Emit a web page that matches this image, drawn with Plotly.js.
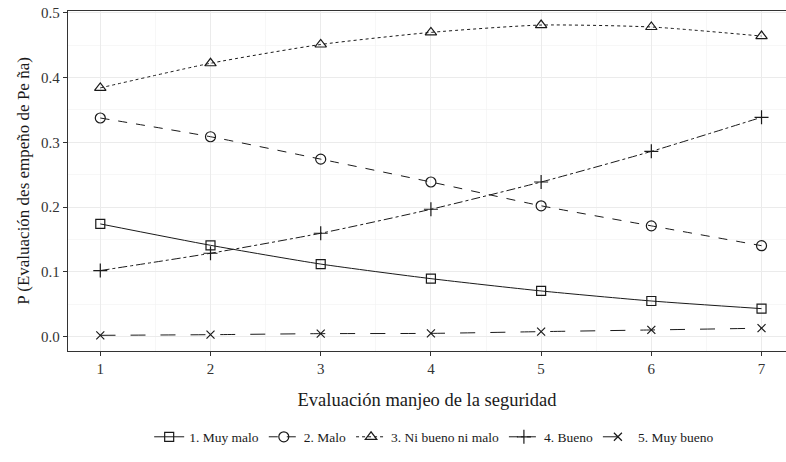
<!DOCTYPE html>
<html>
<head>
<meta charset="utf-8">
<script src="https://cdn.plot.ly/plotly-3.0.1.min.js"></script>
<style>html,body{margin:0;padding:0;background:#fff;}#chart{width:786px;height:462px;}</style>
</head>
<body>
<div id="chart"></div>
<script>
var xVals = [1, 2, 3, 4, 5, 6, 7];
var seriesNames = ["1. Muy malo", "2. Malo", "3. Ni bueno ni malo", "4. Bueno", "5. Muy bueno"];
var muyMalo = [0.174, 0.141, 0.112, 0.0895, 0.0705, 0.055, 0.0432];
var malo = [0.3375, 0.3086, 0.274, 0.2387, 0.202, 0.171, 0.1404];
var niBuenoNiMalo = [0.384, 0.422, 0.451, 0.4697, 0.481, 0.478, 0.464];
var bueno = [0.102, 0.1287, 0.1596, 0.1966, 0.2387, 0.286, 0.3386];
var muyBueno = [0.002, 0.003, 0.0046, 0.005, 0.0077, 0.0103, 0.013];
var seriesValues = [muyMalo, malo, niBuenoNiMalo, bueno, muyBueno];
var dashes = ["solid", "dash", "dot", "dashdot", "longdash"];
var symbols = ["square-open", "circle-open", "triangle-up-open", "cross-thin-open", "x-thin-open"];
var sizes = [9, 10, 10, 10, 8];
var ink = "#1a1a1a";

var traces = seriesValues.map(function (vals, i) {
  return {
    x: xVals,
    y: vals,
    name: seriesNames[i],
    type: "scatter",
    mode: "lines+markers",
    line: {color: ink, width: 1, dash: dashes[i], shape: "spline", smoothing: 0.6},
    marker: {symbol: symbols[i], size: sizes[i], color: ink, line: {color: ink, width: 1.2}}
  };
});

var font = "Liberation Serif, DejaVu Serif, serif";
var layout = {
  width: 786, height: 462,
  margin: {l: 68, r: 0, t: 11, b: 111},
  paper_bgcolor: "#fff", plot_bgcolor: "#fff",
  font: {family: font, color: "#333"},
  showlegend: true,
  legend: {orientation: "h", x: 0.51, xanchor: "center", y: -0.253, yanchor: "middle",
           font: {family: font, size: 13.5, color: "#1a1a1a"}, itemwidth: 30, tracegroupgap: 0},
  xaxis: {
    range: [0.707, 7.222], tickmode: "linear", tick0: 1, dtick: 1,
    showgrid: true, gridcolor: "#ebebeb", gridwidth: 1,
    minor: {dtick: 0.5, tick0: 0.5, showgrid: true, gridcolor: "#f2f2f2", gridwidth: 0.6},
    showline: true, linecolor: "#333", linewidth: 1.2, mirror: true,
    ticks: "outside", ticklen: 4, tickcolor: "#333", tickwidth: 1,
    zeroline: false,
    tickfont: {family: font, size: 15, color: "#333"},
    title: {text: "Evaluación manjeo de la seguridad", font: {family: font, size: 18.5, color: "#1a1a1a"}, standoff: 16}
  },
  yaxis: {
    range: [-0.0222, 0.5027], tickmode: "linear", tick0: 0, dtick: 0.1, tickformat: ".1f",
    showgrid: true, gridcolor: "#ebebeb", gridwidth: 1,
    minor: {dtick: 0.05, tick0: 0, showgrid: true, gridcolor: "#f2f2f2", gridwidth: 0.6},
    showline: true, linecolor: "#333", linewidth: 1.2, mirror: false,
    ticks: "outside", ticklen: 4, tickcolor: "#333", tickwidth: 1,
    zeroline: false,
    tickfont: {family: font, size: 15, color: "#333"},
    title: {text: "P (Evaluación des empeño de Pe ña)", font: {family: font, size: 17, color: "#1a1a1a"}, standoff: 7}
  }
};

Plotly.newPlot("chart", traces, layout, {displayModeBar: false, staticPlot: true});
</script>
</body>
</html>
